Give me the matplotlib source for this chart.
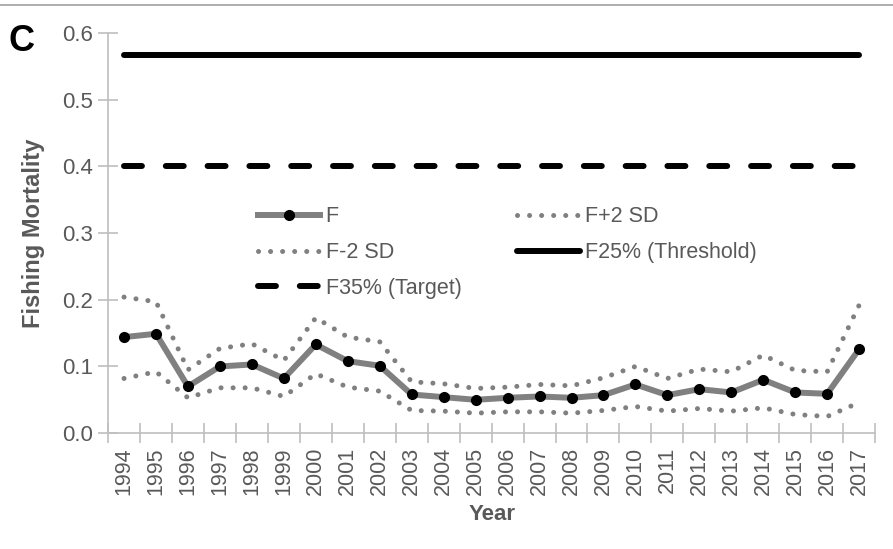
import matplotlib
matplotlib.use("Agg")
import matplotlib.pyplot as plt
from matplotlib.lines import Line2D

plt.rcParams['font.family'] = ['Liberation Sans', 'DejaVu Sans']

# Values
years = [str(y) for y in range(1994, 2018)]
f_values = [0.144, 0.149, 0.070, 0.100, 0.103, 0.082, 0.133, 0.108, 0.101, 0.058,
            0.054, 0.050, 0.053, 0.055, 0.053, 0.057, 0.073, 0.057, 0.066, 0.061,
            0.080, 0.061, 0.059, 0.126]
f_plus_2sd = [0.204, 0.197, 0.095, 0.127, 0.134, 0.109, 0.173, 0.144, 0.137, 0.077,
              0.074, 0.067, 0.069, 0.073, 0.071, 0.083, 0.100, 0.082, 0.096, 0.092,
              0.117, 0.094, 0.092, 0.192]
f_minus_2sd = [0.082, 0.092, 0.053, 0.068, 0.068, 0.055, 0.089, 0.069, 0.063, 0.034,
               0.033, 0.030, 0.032, 0.032, 0.030, 0.034, 0.040, 0.033, 0.037, 0.033,
               0.038, 0.028, 0.025, 0.046]
f25_threshold = 0.567
f35_target = 0.40

text_color = '#595959'
axis_color = '#BFBFBF'

fig = plt.figure(figsize=(8.93, 5.49), dpi=100)
ax = fig.add_axes([0.121, 0.211, 0.859, 0.729])

x = list(range(len(years)))

l_f, = ax.plot(x, f_values, color='#808080', linewidth=4.3, marker='o',
               markersize=7, markerfacecolor='black', markeredgecolor='black',
               label='F', zorder=4)
l_up, = ax.plot(x, f_plus_2sd, color='#808080', linewidth=3.6,
                linestyle=(0, (0.01, 2.4)), dash_capstyle='round', label='F+2 SD')
l_lo, = ax.plot(x, f_minus_2sd, color='#808080', linewidth=3.6,
                linestyle=(0, (0.01, 2.4)), dash_capstyle='round', label='F-2 SD')
l_thr, = ax.plot(x, [f25_threshold] * len(x), color='black', linewidth=4.3,
                 solid_capstyle='round', label='F25% (Threshold)')
l_tgt, = ax.plot(x, [f35_target] * len(x), color='black', linewidth=4.3,
                 linestyle=(0, (3.0, 4.0)), dash_capstyle='round',
                 label='F35% (Target)')

ax.set_xlim(-0.5, len(years) - 0.5)
ax.set_ylim(0, 0.6)

# category boundaries carry the tick marks, centres carry the labels
ax.set_xticks([i - 0.5 for i in range(len(years) + 1)])
ax.set_xticklabels([])
ax.set_xticks(x, minor=True)
ax.set_xticklabels(years, minor=True, rotation=90)
ax.tick_params(axis='x', which='minor', length=0, pad=10,
               labelsize=15.5, labelcolor=text_color)
ax.tick_params(axis='x', which='major', direction='inout', length=14,
               color=axis_color, width=1.2)

ax.set_yticks([0.0, 0.1, 0.2, 0.3, 0.4, 0.5, 0.6])
ax.set_yticklabels(['0.0', '0.1', '0.2', '0.3', '0.4', '0.5', '0.6'])
ax.tick_params(axis='y', direction='inout', length=14, color=axis_color,
               width=1.2, labelsize=16, labelcolor=text_color, pad=4)

for side in ['top', 'right']:
    ax.spines[side].set_visible(False)
for side in ['left', 'bottom']:
    ax.spines[side].set_color(axis_color)
    ax.spines[side].set_linewidth(1.2)

ax.set_ylabel('Fishing Mortality', fontsize=17, fontweight='bold',
              color=text_color, labelpad=12)
ax.set_xlabel('Year', fontsize=16, fontweight='bold', color=text_color,
              labelpad=6)

leg = ax.legend(handles=[l_f, l_lo, l_tgt, l_up, l_thr], ncol=2,
                loc='upper left', bbox_to_anchor=(0.17, 0.615), frameon=False,
                fontsize=15.5, handlelength=2.9, handletextpad=0.25,
                columnspacing=2.6, labelspacing=0.68, labelcolor=text_color)

fig.text(0.010, 0.924, 'C', fontsize=26, fontweight='bold', color='black',
         va='center', ha='left')

fig.add_artist(Line2D([0, 1], [1 - 5 / 549, 1 - 5 / 549], color='#A0A0A0',
                      linewidth=1.2, transform=fig.transFigure))

fig.savefig('out.png', dpi=100)
